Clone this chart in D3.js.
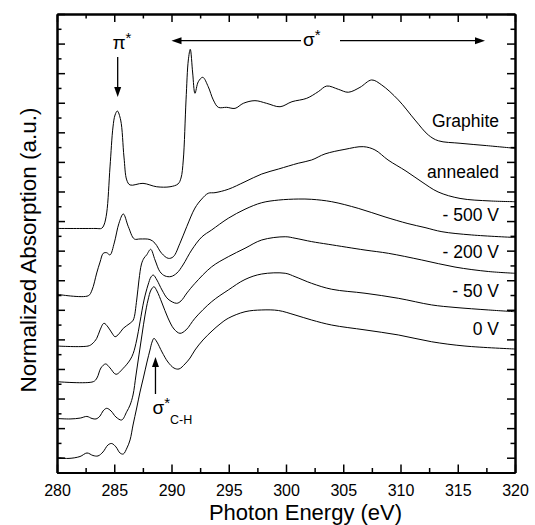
<!DOCTYPE html>
<html>
<head>
<meta charset="utf-8">
<script src="https://cdn.jsdelivr.net/npm/d3@7"></script>
<style>
  html, body { margin: 0; padding: 0; background: #fff; }
  svg { display: block; }
  text { font-family: "Liberation Sans", Arial, Helvetica, sans-serif; fill: #000; }
</style>
</head>
<body>
<svg id="chart" width="535" height="525"></svg>
<script>
// ---------------- data (photon energy in eV, normalized absorption in a.u.) ----------------
const graphiteE = [280.00,283.32,283.90,284.10,284.34,284.63,284.89,285.07,285.27,285.56,285.85,286.09,286.38,287.51,288.71,289.87,290.57,290.83,291.03,291.27,291.47,291.64,291.85,292.05,292.34,292.73,293.21,293.65,294.09,294.82,295.55,296.27,297.29,298.31,299.48,300.52,301.81,302.82,303.56,304.57,305.44,306.46,307.48,308.36,309.81,311.27,312.43,313.30,315.20,317.53,320.00];
const graphiteA = [15.50,15.50,15.51,15.73,16.55,19.66,22.36,23.17,23.44,22.83,20.33,18.78,18.44,18.55,18.32,18.32,18.51,18.91,20.13,24.19,26.89,27.61,26.01,24.64,25.42,25.72,25.08,24.19,23.69,23.69,23.62,23.96,24.14,23.96,23.73,24.07,24.30,24.75,25.13,24.91,24.71,25.04,25.54,25.20,24.19,22.83,21.82,21.43,21.26,21.10,20.92];

const annealedE = [280.00,282.73,283.06,283.47,283.76,284.04,284.34,284.63,285.00,285.41,285.79,286.23,286.75,287.25,288.12,288.56,289.14,289.72,290.16,290.74,291.33,292.05,292.64,293.21,293.80,294.96,296.42,297.88,299.35,301.07,302.24,303.41,305.15,306.75,307.77,308.91,310.48,311.88,313.28,315.20,317.82,320.00];
const annealedA = [11.05,10.95,11.34,12.49,13.23,13.82,13.86,13.71,14.52,15.85,16.48,15.62,14.79,14.79,14.75,14.50,13.82,13.48,13.59,14.50,15.62,16.88,17.49,17.88,17.92,18.15,18.66,19.18,19.52,19.91,20.13,20.54,20.85,21.03,20.81,20.13,19.38,18.64,17.97,17.53,17.36,17.31];

const v500E = [280.00,282.71,283.06,283.47,283.76,284.10,284.45,284.80,285.07,285.41,285.79,286.38,286.66,286.96,287.16,287.38,287.60,287.83,288.18,288.56,288.99,289.43,289.96,290.48,291.00,291.76,292.64,293.51,294.96,296.42,297.88,299.35,301.07,302.24,303.99,306.31,308.65,310.65,312.14,313.62,316.22,320.00];
const v500A = [7.55,7.55,7.69,8.07,8.64,9.09,8.84,8.43,8.18,8.37,8.75,9.09,9.31,10.66,12.02,13.10,13.50,13.71,14.09,13.37,12.58,12.29,12.25,12.49,13.03,14.04,14.92,15.40,16.19,16.80,17.24,17.42,17.49,17.47,17.31,16.86,16.28,15.83,15.56,15.28,15.06,14.89];

const v200E = [280.00,283.17,283.49,283.84,284.25,284.63,285.15,285.79,286.38,286.66,286.96,287.25,287.60,287.95,288.21,288.41,288.73,289.17,289.69,290.45,290.83,291.35,292.05,293.51,294.96,296.42,297.88,299.93,300.79,302.24,303.69,306.90,308.94,311.85,314.76,317.67,320.00];
const v200A = [5.14,5.14,5.39,6.07,6.34,6.07,5.64,6.05,6.61,7.06,7.96,9.18,10.66,11.68,12.22,12.35,12.01,11.34,10.73,10.44,10.60,11.14,11.79,12.91,13.59,14.16,14.72,14.94,14.84,14.61,14.43,14.04,13.82,13.37,12.89,12.59,12.47];

const v50E = [280.00,281.14,282.03,282.61,283.06,283.41,283.76,284.02,284.34,284.72,285.15,285.65,286.09,286.38,286.64,286.90,287.16,287.42,287.69,287.95,288.21,288.47,288.73,289.17,289.69,290.22,290.74,291.27,292.05,293.51,294.96,296.42,297.88,299.93,300.79,302.24,303.99,306.90,309.81,312.72,314.76,317.67,320.00];
const v50A = [2.65,2.62,2.68,2.79,2.65,2.62,2.82,3.16,3.34,3.16,2.75,2.55,3.11,3.56,4.24,5.59,6.95,8.30,9.65,10.66,11.34,11.56,11.27,10.46,9.45,8.70,8.41,8.64,9.43,10.55,11.34,12.05,12.42,12.47,12.24,11.79,11.39,11.12,10.78,10.33,10.16,9.99,9.87];

const v0E = [280.00,280.96,282.01,282.62,283.14,283.58,284.02,284.45,284.78,285.15,285.50,285.79,286.11,286.38,286.64,286.96,287.25,287.54,287.86,288.12,288.30,288.47,288.73,289.17,289.69,290.22,290.66,291.18,291.62,292.05,292.75,293.54,294.24,294.96,296.42,297.88,299.35,300.79,302.24,303.99,306.90,309.81,312.72,315.63,320.00];
const v0A = [0.03,-0.05,0.08,0.32,0.15,0.12,0.39,0.86,0.96,0.73,0.32,0.25,0.66,1.20,2.21,3.36,4.44,5.39,6.47,7.28,7.82,8.07,7.82,7.15,6.47,6.06,6.00,6.34,6.74,7.28,7.96,8.57,9.04,9.43,9.87,9.99,9.95,9.65,9.31,8.97,8.64,8.30,7.84,7.55,7.35];

const seriesNames = ["Graphite", "annealed", "- 500 V", "- 200 V", "- 50 V", "0 V"];
const seriesE = [graphiteE, annealedE, v500E, v200E, v50E, v0E];
const seriesA = [graphiteA, annealedA, v500A, v200A, v50A, v0A];
const labelLevels = [22.36, 18.89, 16.01, 13.48, 10.89, 8.30];  // a.u. level of each label baseline

const xMajorTicks = [280, 285, 290, 295, 300, 305, 310, 315, 320];
const xMinorTicks = [282.5, 287.5, 292.5, 297.5, 302.5, 307.5, 312.5, 317.5];
const yMajorTicks = d3.range(0, 31, 2);
const yMinorTicks = d3.range(-1, 30, 2);

const xTitle = "Photon Energy (eV)";
const yTitle = "Normalized Absorption (a.u.)";

// ---------------- layout ----------------
const svg = d3.select("#chart");
const L = 57, R = 515, T = 14, B = 472.5;
const x = d3.scaleLinear().domain([280, 320]).range([L, R]);
const y = d3.scaleLinear().domain([-1, 30]).range([B, T]);

function styleAxis(g) {
  g.selectAll(".domain").attr("stroke", "#000").attr("stroke-width", 2);
  g.selectAll(".tick line").attr("stroke", "#000").attr("stroke-width", 1.5);
}
const gB = svg.append("g").attr("transform", `translate(0,${B})`)
  .call(d3.axisBottom(x).tickValues(xMajorTicks).tickSize(-8).tickSizeOuter(0).tickPadding(12).tickFormat(d3.format("d")));
gB.selectAll("text").attr("font-size", 16).attr("font-family", "Liberation Sans, Arial, sans-serif").attr("fill", "#000");
svg.append("g").attr("transform", `translate(0,${B})`)
  .call(d3.axisBottom(x).tickValues(xMinorTicks).tickSize(-4.5).tickSizeOuter(0).tickFormat(""));
svg.append("g").attr("transform", `translate(0,${T})`)
  .call(d3.axisTop(x).tickValues(xMajorTicks).tickSize(-8).tickSizeOuter(0).tickFormat(""));
svg.append("g").attr("transform", `translate(0,${T})`)
  .call(d3.axisTop(x).tickValues(xMinorTicks).tickSize(-4.5).tickSizeOuter(0).tickFormat(""));
svg.append("g").attr("transform", `translate(${L},0)`)
  .call(d3.axisLeft(y).tickValues(yMajorTicks).tickSize(-8).tickSizeOuter(0).tickFormat(""));
svg.append("g").attr("transform", `translate(${L},0)`)
  .call(d3.axisLeft(y).tickValues(yMinorTicks).tickSize(-4.5).tickSizeOuter(0).tickFormat(""));
svg.append("g").attr("transform", `translate(${R},0)`)
  .call(d3.axisRight(y).tickValues(yMajorTicks).tickSize(-8).tickSizeOuter(0).tickFormat(""));
svg.append("g").attr("transform", `translate(${R},0)`)
  .call(d3.axisRight(y).tickValues(yMinorTicks).tickSize(-4.5).tickSizeOuter(0).tickFormat(""));
svg.selectAll("g").call(styleAxis);

// spectra
const line = d3.line().x(d => x(d[0])).y(d => y(d[1])).curve(d3.curveCatmullRom.alpha(0.5));
seriesE.forEach((E, i) => {
  const pts = E.map((e, j) => [e, seriesA[i][j]]);
  svg.append("path").datum(pts).attr("d", line)
    .attr("fill", "none").attr("stroke", "#000").attr("stroke-width", 1);
});

// series labels
seriesNames.forEach((name, i) => {
  svg.append("text").attr("x", 499).attr("y", y(labelLevels[i]))
    .attr("text-anchor", "end").attr("font-size", 17.5).text(name);
});

// axis titles
svg.append("text").attr("x", 305.5).attr("y", 520).attr("text-anchor", "middle")
  .attr("font-size", 22).text(xTitle);
svg.append("text").attr("transform", "translate(36,250) rotate(-90)").attr("text-anchor", "middle")
  .attr("font-size", 22.5).text(yTitle);

// annotations
function arrowHead(px, py, dir) {
  const l = 10, w = 3.5;
  let p;
  if (dir === "down") p = [[px, py], [px - w, py - l], [px + w, py - l]];
  if (dir === "up") p = [[px, py], [px - w, py + l], [px + w, py + l]];
  if (dir === "left") p = [[px, py], [px + l, py - w], [px + l, py + w]];
  if (dir === "right") p = [[px, py], [px - l, py - w], [px - l, py + w]];
  svg.append("path").attr("d", "M" + p.join("L") + "Z").attr("fill", "#000");
}
// pi*
const piX = x(285.3);
svg.append("line").attr("x1", piX).attr("x2", piX).attr("y1", 57).attr("y2", 90)
  .attr("stroke", "#000").attr("stroke-width", 1.3);
arrowHead(piX, 97, "down");
const piT = svg.append("text").attr("x", 112.5).attr("y", 48.5).attr("font-size", 19);
piT.append("tspan").text("π");
piT.append("tspan").attr("dy", -6).attr("font-size", 15).text("*");

// sigma* range arrow
const sY = 40.7;
svg.append("line").attr("x1", 178).attr("x2", 301).attr("y1", sY).attr("y2", sY).attr("stroke", "#000").attr("stroke-width", 1.3);
svg.append("line").attr("x1", 340).attr("x2", 478).attr("y1", sY).attr("y2", sY).attr("stroke", "#000").attr("stroke-width", 1.3);
arrowHead(171.5, sY, "left");
arrowHead(485, sY, "right");
const sT = svg.append("text").attr("x", 303).attr("y", 46).attr("font-size", 19);
sT.append("tspan").text("σ");
sT.append("tspan").attr("dy", -6).attr("font-size", 15).text("*");

// sigma*_C-H
const chX = x(288.6);
svg.append("line").attr("x1", chX).attr("x2", chX).attr("y1", 364).attr("y2", 394).attr("stroke", "#000").attr("stroke-width", 1.3);
arrowHead(chX, 357, "up");
const cT = svg.append("text").attr("x", 152.5).attr("y", 414).attr("font-size", 19);
cT.append("tspan").text("σ");
cT.append("tspan").attr("dy", -6).attr("font-size", 15).text("*");
cT.append("tspan").attr("dy", 16).attr("font-size", 12.5).text("C-H");
</script>
</body>
</html>
